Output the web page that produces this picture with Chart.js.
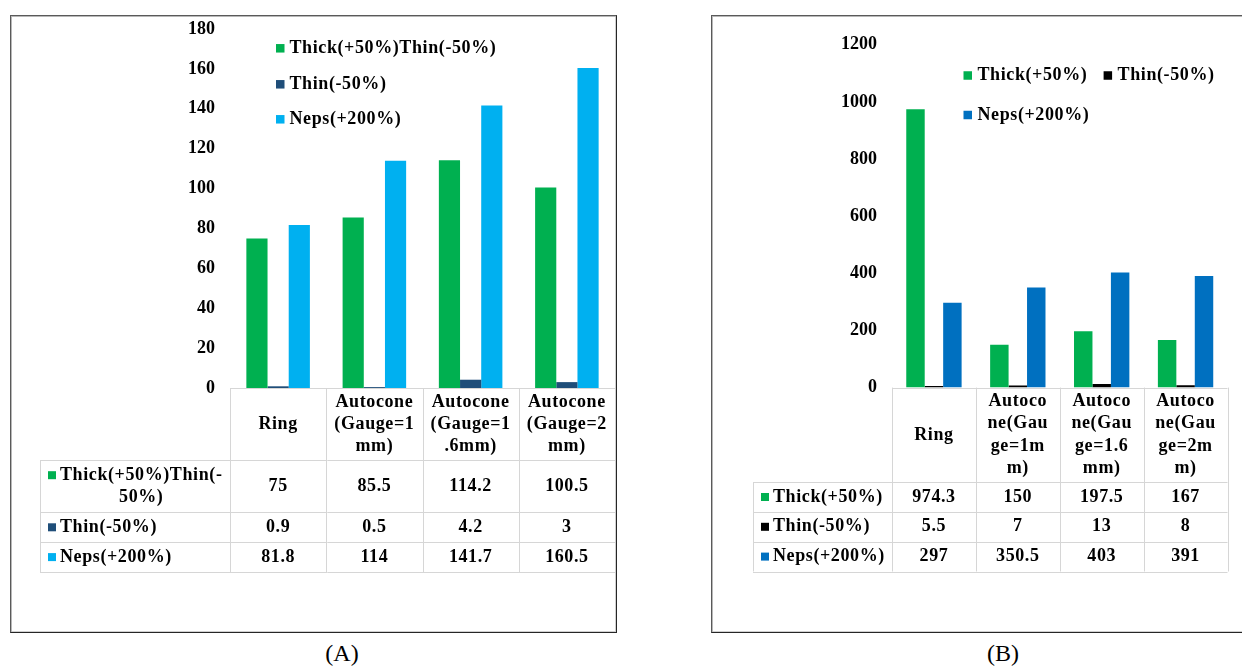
<!DOCTYPE html>
<html>
<head>
<meta charset="utf-8">
<script src="https://cdn.jsdelivr.net/npm/chart.js@4.4.0/dist/chart.umd.min.js"></script>
<style>
  html, body { margin: 0; padding: 0; background: #fff; width: 1242px; height: 666px; overflow: hidden; }
  body { position: relative; }
  .frame {
    position: absolute; background: #fff;
    border-top: 1px solid #5a5a5a; border-left: 1px solid #5a5a5a;
    border-right: 1px solid #262626; border-bottom: 1px solid #262626;
    box-shadow: inset 1px 1px 0 #b8b8b8, inset -1px -1px 0 #d0d0d0;
  }
  #frameA { left: 10px; top: 15px; width: 605px; height: 616px; }
  #frameB { left: 711px; top: 15px; width: 540px; height: 616px; }
  canvas { position: absolute; }
  #chartA { left: 11px; top: 16px; }
  #chartB { left: 712px; top: 16px; }
  .caption { position: absolute; top: 640px; width: 80px; text-align: center; font-family: 'Liberation Serif', serif; font-size: 24px; color: #000; }
</style>
</head>
<body>
<div class="frame" id="frameA"></div>
<div class="frame" id="frameB"></div>
<canvas id="chartA" width="604" height="615"></canvas>
<canvas id="chartB" width="530" height="615"></canvas>
<div class="caption" style="left:302px">(A)</div>
<div class="caption" style="left:963px">(B)</div>
<script>
// chart A
const categoriesA = [['Ring'], ['Autocone', '(Gauge=1', 'mm)'], ['Autocone', '(Gauge=1', '.6mm)'], ['Autocone', '(Gauge=2', 'mm)']];
const seriesA = ['Thick(+50%)Thin(-50%)', 'Thin(-50%)', 'Neps(+200%)'];
const rowLabelsA = [['Thick(+50%)Thin(-', '50%)'], ['Thin(-50%)'], ['Neps(+200%)']];
const thickA = [75, 85.5, 114.2, 100.5];
const thinA = [0.9, 0.5, 4.2, 3];
const nepsA = [81.8, 114, 141.7, 160.5];
const yTicksA = [0, 180, 20]; // min, max, step

// chart B
const categoriesB = [['Ring'], ['Autoco', 'ne(Gau', 'ge=1m', 'm)'], ['Autoco', 'ne(Gau', 'ge=1.6', 'mm)'], ['Autoco', 'ne(Gau', 'ge=2m', 'm)']];
const seriesB = ['Thick(+50%)', 'Thin(-50%)', 'Neps(+200%)'];
const rowLabelsB = [['Thick(+50%)'], ['Thin(-50%)'], ['Neps(+200%)']];
const thickB = [974.3, 150, 197.5, 167];
const thinB = [5.5, 7, 13, 8];
const nepsB = [297, 350.5, 403, 391];
const yTicksB = [0, 1200, 200];

const FONT = "'Liberation Serif', 'Times New Roman', serif";
const LINE_H = 22.3;
const GRID = '#d6d6d6';

const headHeight = lines => lines * LINE_H + 5.3;
const rowHeight = lines => lines * LINE_H + 7.5;

function tableHeight(chart) {
  const o = chart.options.plugins.dataTable;
  let h = headHeight(Math.max(...chart.data.labels.map(l => l.length)));
  o.rowLabels.forEach(r => { h += rowHeight(r.length); });
  return h;
}

const dataTable = {
  id: 'dataTable',
  afterDraw(chart, args, opts) {
    const ctx = chart.ctx;
    const x = chart.scales.x;
    const n = chart.data.labels.length;
    const colW = (x.right - x.left) / n;
    const top = chart.chartArea.bottom;
    const headH = headHeight(Math.max(...chart.data.labels.map(l => l.length)));
    const rowsH = opts.rowLabels.map(r => rowHeight(r.length));
    const bottom = top + headH + rowsH.reduce((a, b) => a + b, 0);
    const left = opts.left;

    ctx.save();
    ctx.strokeStyle = GRID;
    ctx.lineWidth = 1;
    ctx.beginPath();
    // top line (axis)
    ctx.moveTo(x.left, Math.round(top) + 0.5); ctx.lineTo(x.right, Math.round(top) + 0.5);
    // column lines
    for (let i = 0; i <= n; i++) {
      const cx = Math.round(x.getPixelForValue(i) - colW / 2) + 0.5;
      ctx.moveTo(cx, top); ctx.lineTo(cx, bottom);
    }
    ctx.moveTo(left + 0.5, top + headH); ctx.lineTo(left + 0.5, bottom);
    let y = top + headH;
    [0, ...rowsH].forEach(h => {
      y += h;
      const yy = Math.round(y) + 0.5;
      ctx.moveTo(left, yy); ctx.lineTo(x.right, yy);
    });
    ctx.stroke();

    ctx.fillStyle = '#000';
    ctx.font = `bold 18px ${FONT}`;
    ctx.letterSpacing = '0.6px';
    ctx.textBaseline = 'middle';
    ctx.textAlign = 'center';

    // header
    chart.data.labels.forEach((lines, i) => {
      const cx = x.getPixelForValue(i);
      const y0 = top + headH / 2 - (lines.length - 1) * LINE_H / 2;
      lines.forEach((t, k) => ctx.fillText(t, cx, y0 + k * LINE_H));
    });

    // rows
    let rowTop = top + headH;
    chart.data.datasets.forEach((ds, r) => {
      const h = rowsH[r];
      const lines = opts.rowLabels[r];
      const cy = rowTop + h / 2;
      const y0 = cy - (lines.length - 1) * LINE_H / 2;
      ctx.fillStyle = ds.backgroundColor;
      ctx.fillRect(left + 8, y0 - 4, 8, 8);
      ctx.fillStyle = '#000';
      ctx.textAlign = 'left';
      const tx = left + 20;
      ctx.fillText(lines[0], tx, y0);
      const mid = tx + ctx.measureText(lines[0]).width / 2;
      ctx.textAlign = 'center';
      for (let k = 1; k < lines.length; k++) ctx.fillText(lines[k], mid, y0 + k * LINE_H);
      ds.data.forEach((v, i) => ctx.fillText(String(v), x.getPixelForValue(i), cy));
      rowTop += h;
    });
    ctx.restore();
  }
};

const keyLegend = {
  id: 'keyLegend',
  afterDraw(chart, args, opts) {
    const ctx = chart.ctx;
    ctx.save();
    ctx.font = `bold 18px ${FONT}`;
    ctx.letterSpacing = '0.6px';
    ctx.textBaseline = 'middle';
    ctx.textAlign = 'left';
    chart.data.datasets.forEach((ds, i) => {
      const p = opts.items[i];
      ctx.fillStyle = ds.backgroundColor;
      ctx.fillRect(p.x, p.y - 4.25, 8.5, 8.5);
      ctx.fillStyle = '#000';
      ctx.fillText(ds.label, p.x + opts.gap, p.y);
    });
    ctx.restore();
  }
};

function makeChart(id, cfg) {
  return new Chart(document.getElementById(id), {
    type: 'bar',
    data: {
      labels: cfg.labels,
      datasets: cfg.series.map((name, i) => ({
        label: name,
        data: cfg.values[i],
        backgroundColor: cfg.colors[i],
        borderWidth: 0,
        categoryPercentage: 0.66,
        barPercentage: 1.0,
      })),
    },
    options: {
      responsive: false,
      animation: false,
      layout: { padding: cfg.padding },
      plugins: {
        legend: { display: false },
        tooltip: { enabled: false },
        dataTable: { rowLabels: cfg.rowLabels, left: cfg.tableLeft },
        keyLegend: { items: cfg.legendItems, gap: cfg.legendGap },
      },
      scales: {
        x: {
          grid: { display: false, drawTicks: false },
          border: { display: false },
          ticks: { display: false },
          afterFit: scale => {
            scale.height = tableHeight(scale.chart);
            scale.paddingTop = 0;
            scale.paddingBottom = 0;
          },
        },
        y: {
          min: cfg.yTicks[0],
          max: cfg.yTicks[1],
          grid: { display: false, drawTicks: false },
          border: { display: false },
          ticks: {
            stepSize: cfg.yTicks[2],
            padding: 15,
            color: '#000',
            font: { family: FONT, size: 18, weight: 'bold' },
            callback: v => String(v),
          },
          afterFit: scale => {
            scale.width = cfg.axisWidth;
            scale.paddingTop = 0;
            scale.paddingBottom = 0;
          },
        },
      },
    },
    plugins: [dataTable, keyLegend],
  });
}

makeChart('chartA', {
  labels: categoriesA,
  series: seriesA,
  rowLabels: rowLabelsA,
  values: [thickA, thinA, nepsA],
  colors: ['#00B050', '#1F4E79', '#00B0F0'],
  yTicks: yTicksA,
  axisWidth: 219,
  padding: { top: 13, right: 0, bottom: 59, left: 0 },
  tableLeft: 29,
  legendItems: [{ x: 265, y: 32.3 }, { x: 265, y: 68.3 }, { x: 265, y: 103.3 }],
  legendGap: 13.5,
});

makeChart('chartB', {
  labels: categoriesB,
  series: seriesB,
  rowLabels: rowLabelsB,
  values: [thickB, thinB, nepsB],
  colors: ['#00B050', '#000000', '#0070C0'],
  yTicks: yTicksB,
  axisWidth: 180,
  padding: { top: 28.8, right: 14.5, bottom: 59.5, left: 0 },
  tableLeft: 41,
  legendItems: [{ x: 251.5, y: 59.5 }, { x: 391.6, y: 59.5 }, { x: 251.5, y: 99 }],
  legendGap: 14,
});
</script>
</body>
</html>
